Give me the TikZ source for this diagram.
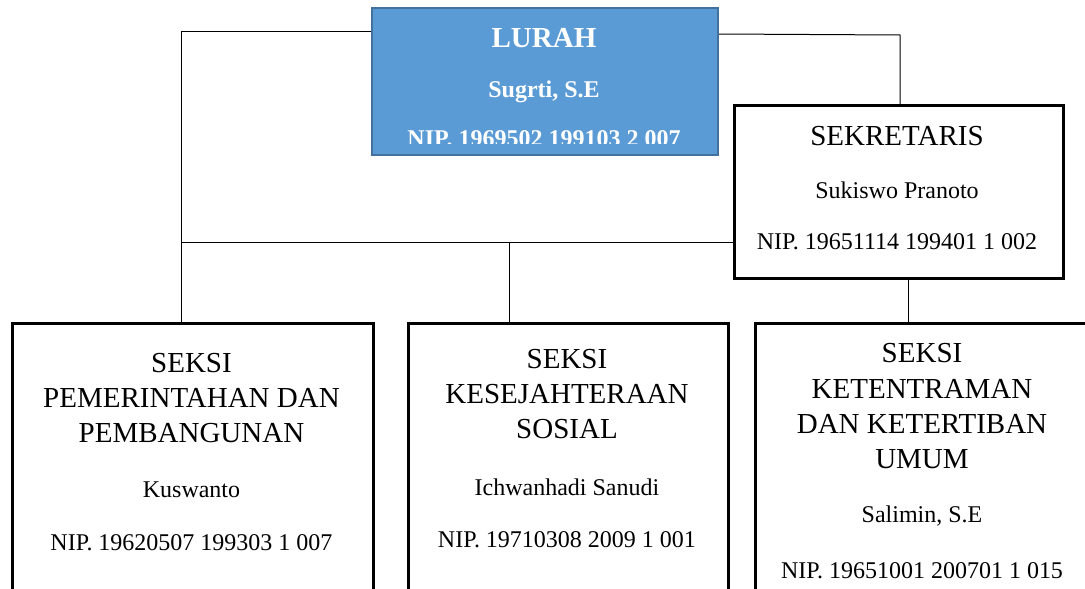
\documentclass[tikz,border=0pt]{standalone}
\usepackage{fontspec}
\setmainfont{Liberation Serif}
\definecolor{lurahfill}{HTML}{5B9BD5}
\definecolor{lurahedge}{HTML}{41719C}
\tikzset{
  box/.style={draw=black,line width=2.6pt,fill=white,inner sep=0pt,anchor=north west},
  headbox/.style={draw=lurahedge,line width=2pt,fill=lurahfill,inner sep=0pt,anchor=north west},
  conn/.style={draw=black,line width=1pt},
  ttl/.style={anchor=base,inner sep=0pt,font=\fontsize{29}{34}\selectfont},
  sub/.style={anchor=base,inner sep=0pt,font=\fontsize{24}{28}\selectfont},
  httl/.style={anchor=base,inner sep=0pt,text=white,font=\bfseries\fontsize{29}{34}\selectfont},
  hsub/.style={anchor=base,inner sep=0pt,text=white,font=\bfseries\fontsize{24}{28}\selectfont},
}
\begin{document}
\begin{tikzpicture}[x=1pt,y=-1pt]
\useasboundingbox (0,0) rectangle (1085,589);
\clip (0,0) rectangle (1085,589);
\coordinate (cl) at (181,31);
\coordinate (cm) at (181,242);
\coordinate (cx) at (509,242);
\coordinate (cr) at (900,35);
\coordinate (cs) at (908,277);
\coordinate (lr) at (717,34);
% boxes
\node[headbox,minimum width=346pt,minimum height=147pt] (lurah) at (371,7) {};
\node[box,minimum width=329pt,minimum height=173pt] (sek) at (733,104) {};
\node[box,minimum width=361pt,minimum height=300pt] (pp) at (11,322) {};
\node[box,minimum width=320pt,minimum height=300pt] (ks) at (407,322) {};
\node[box,minimum width=340pt,minimum height=300pt] (kt) at (754,322) {};
% connectors
\draw[conn] (lurah.west |- cl) -- (cl) -- (cl |- pp.north);
\draw[conn] (cm) -- (cm -| sek.west);
\draw[conn] (cx) -- (cx |- ks.north);
\draw[conn] (lurah.east |- lr) -- (cr) -- (cr |- sek.north);
\draw[conn] (cs |- sek.south) -- (cs |- kt.north);
% LURAH text
\node[httl] (t1) at (544,47) {LURAH};
\node[hsub] (t2) at (544,97) {Sugrti, S.E};
\begin{scope}
\clip (371,7) rectangle (717,143);
\node[hsub] (t3) at (544,146) {NIP. 1969502 199103 2 007};
\end{scope}
% SEKRETARIS text
\node[ttl] (s1) at (897,145) {SEKRETARIS};
\node[sub] (s2) at (897,198) {Sukiswo Pranoto};
\node[sub] (s3) at (897,249) {NIP. 19651114 199401 1 002};
% box 1
\node[ttl] (a1) at (191.5,372) {SEKSI};
\node[ttl] (a2) at (191.5,407) {PEMERINTAHAN DAN};
\node[ttl] (a3) at (191.5,442) {PEMBANGUNAN};
\node[sub] (a4) at (191.5,497) {Kuswanto};
\node[sub] (a5) at (191.5,550) {NIP. 19620507 199303 1 007};
% box 2
\node[ttl] (b1) at (567,368) {SEKSI};
\node[ttl] (b2) at (567,403) {KESEJAHTERAAN};
\node[ttl] (b3) at (567,438) {SOSIAL};
\node[sub] (b4) at (567,495) {Ichwanhadi Sanudi};
\node[sub] (b5) at (567,547) {NIP. 19710308 2009 1 001};
% box 3
\node[ttl] (c1) at (922,362) {SEKSI};
\node[ttl] (c2) at (922,398) {KETENTRAMAN};
\node[ttl] (c3) at (922,433) {DAN KETERTIBAN};
\node[ttl] (c4) at (922,468) {UMUM};
\node[sub] (c5) at (922,522) {Salimin, S.E};
\node[sub] (c6) at (922,578) {NIP. 19651001 200701 1 015};
\end{tikzpicture}
\end{document}
